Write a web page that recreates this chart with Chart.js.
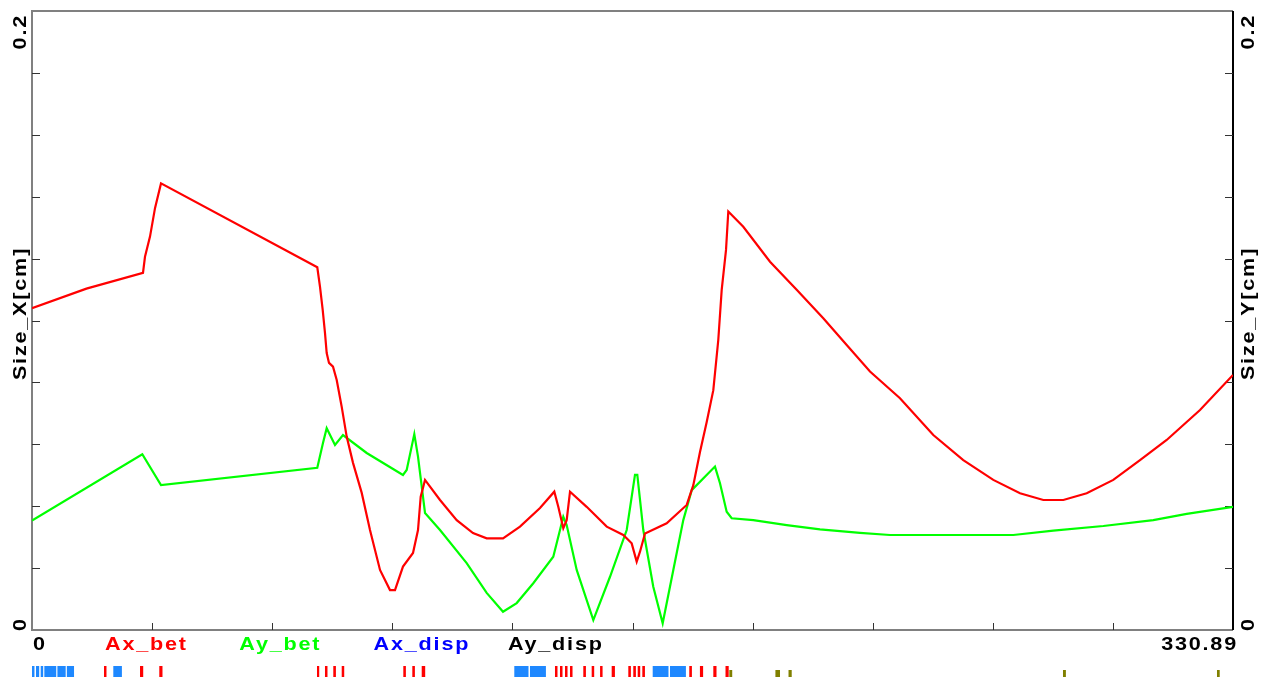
<!DOCTYPE html>
<html>
<head>
<meta charset="utf-8">
<title>Beam size</title>
<script src="https://cdn.jsdelivr.net/npm/chart.js@4.4.1/dist/chart.umd.min.js"></script>
<style>
  html, body { margin: 0; padding: 0; background: #fff; }
  #wrap { width: 1268px; height: 683px; position: relative; }
</style>
</head>
<body>
<div id="wrap"><canvas id="optics"></canvas></div>
<script>
// horizontal beam size along the line (s in m, size in cm)
const sAx = [0.00, 15.00, 30.58, 31.13, 32.51, 33.89, 35.54, 78.60, 79.35, 80.09, 80.72, 81.19, 81.83, 82.93, 83.95, 85.33, 86.70,
  88.44, 90.84, 93.12, 95.88, 98.63, 100.01, 102.21, 104.97, 106.35, 107.09, 108.28, 112.41, 117.01, 121.50, 125.27, 129.77,
  134.45, 139.96, 143.90, 145.00, 146.38, 147.31, 148.23, 152.82, 158.34, 162.91, 165.22, 166.60, 167.51, 168.89, 174.86,
  180.38, 182.20, 184.04, 185.89, 187.71, 189.08, 190.02, 191.21, 191.84, 195.97, 203.33, 210.68, 218.01, 224.46, 230.88,
  239.14, 248.32, 256.58, 264.85, 272.21, 278.63, 284.14, 290.58, 297.91, 305.27, 312.62, 321.80, 330.89];
const ax = [0.1040, 0.1103, 0.1154, 0.1206, 0.1271, 0.1363, 0.1443, 0.1172, 0.1109, 0.1034, 0.0960, 0.0895, 0.0863, 0.0851, 0.0808, 0.0721, 0.0625,
  0.0540, 0.0443, 0.0323, 0.0194, 0.0129, 0.0129, 0.0205, 0.0249, 0.0323, 0.0431, 0.0485, 0.0420, 0.0355, 0.0313, 0.0296, 0.0296,
  0.0334, 0.0394, 0.0447, 0.0398, 0.0329, 0.0355, 0.0447, 0.0398, 0.0334, 0.0307, 0.0280, 0.0221, 0.0253, 0.0312, 0.0345,
  0.0404, 0.0468, 0.0575, 0.0672, 0.0775, 0.0937, 0.1099, 0.1228, 0.1352, 0.1303, 0.1190, 0.1099, 0.1007, 0.0921, 0.0835,
  0.0749, 0.0630, 0.0549, 0.0485, 0.0442, 0.0420, 0.0420, 0.0442, 0.0485, 0.0549, 0.0614, 0.0711, 0.0824];

// vertical beam size
const sAy = [0.00, 30.39, 35.54, 78.60, 80.17, 81.19, 83.48, 85.68, 92.21, 102.21, 103.23, 105.33, 106.35, 108.28, 112.41, 119.76,
  125.27, 129.77, 133.54, 138.11, 143.62, 145.47, 146.38, 147.31, 150.07, 154.65, 159.25, 163.85, 166.13, 166.77, 168.42,
  171.17, 173.76, 176.69, 179.44, 181.76, 188.17, 189.55, 191.39, 192.77, 198.73, 207.93, 217.10, 228.12, 236.39, 270.36,
  281.38, 295.16, 308.93, 318.14, 330.89];
const ay = [0.0354, 0.0568, 0.0468, 0.0524, 0.0604, 0.0652, 0.0598, 0.0630, 0.0572, 0.0501, 0.0517, 0.0633, 0.0560, 0.0378, 0.0323, 0.0216,
  0.0120, 0.0059, 0.0087, 0.0151, 0.0237, 0.0323, 0.0366, 0.0339, 0.0194, 0.0032, 0.0172, 0.0323, 0.0501, 0.0501, 0.0323,
  0.0140, 0.0022, 0.0194, 0.0355, 0.0452, 0.0528, 0.0474, 0.0382, 0.0361, 0.0355, 0.0339, 0.0325, 0.0314, 0.0307, 0.0307,
  0.0321, 0.0336, 0.0355, 0.0375, 0.0398];

// lattice elements [start, end] in m
const quads = [[0, 0.9], [1.1, 2.2], [2.4, 3.3], [3.4, 6.9], [7.0, 9.5], [9.6, 11.8], [22.40, 24.99],
  [132.88, 137.01], [137.20, 141.81], [171.01, 175.58], [175.78, 180.38]];
const bends = [[19.84, 20.74], [29.76, 30.86], [35.07, 36.17], [78.52, 79.35], [80.72, 81.63], [83.01, 83.95], [85.33, 86.24],
  [102.30, 103.23], [104.78, 105.71], [107.37, 108.55], [144.09, 145.00], [145.47, 146.38], [146.85, 147.76], [148.23, 149.14],
  [151.89, 152.83], [154.20, 155.11], [156.51, 157.42], [159.71, 160.82], [164.29, 165.22], [165.66, 166.60], [166.88, 167.79],
  [168.15, 169.09], [181.09, 182.03], [184.02, 185.12], [187.71, 188.81], [191.07, 192.17]];
const others = [[192.12, 193.14], [204.82, 206.30], [208.43, 209.53], [284.05, 285.07], [326.48, 327.45]];

const xTicks = [0, 33.089, 66.178, 99.267, 132.356, 165.445, 198.534, 231.623, 264.712, 297.801, 330.89];
const yTicks = [0, 0.02, 0.04, 0.06, 0.08, 0.1, 0.12, 0.14, 0.16, 0.18, 0.2];
const sMin = 0, sMax = 330.89;
const legendNames = ['Ax_bet', 'Ay_bet', 'Ax_disp', 'Ay_disp'];
const legendColors = ['#ff0000', '#00ff00', '#0000ff', '#000000'];

const FONT = 'bold 18px "Liberation Sans", Arial, sans-serif';

function toPoints(xs, ys) {
  return xs.map((x, i) => ({ x: x, y: ys[i] }));
}

// wide bold labels, optionally turned to read bottom-up
function label(ctx, str, x, y, align, color, rotate) {
  ctx.save();
  ctx.translate(x, y);
  if (rotate) ctx.rotate(-Math.PI / 2);
  ctx.scale(1.2, 1);
  ctx.font = FONT;
  ctx.letterSpacing = '1.5px';
  ctx.fillStyle = color || '#000';
  ctx.textAlign = align;
  ctx.textBaseline = 'alphabetic';
  ctx.fillText(str, 0, 0);
  ctx.restore();
}

const framePlugin = {
  id: 'frame',
  beforeDatasetsDraw(chart) {
    const { ctx, chartArea: a, scales } = chart;
    ctx.save();
    ctx.lineWidth = 2;
    ctx.strokeStyle = '#808080';
    ctx.beginPath();
    ctx.moveTo(a.right, a.top);
    ctx.lineTo(a.left, a.top);
    ctx.lineTo(a.left, a.bottom);
    ctx.lineTo(a.right, a.bottom);
    ctx.stroke();
    ctx.strokeStyle = '#000';
    ctx.beginPath();
    ctx.moveTo(a.right, a.top);
    ctx.lineTo(a.right, a.bottom);
    ctx.stroke();

    // inward tick marks
    ctx.lineWidth = 1;
    ctx.strokeStyle = '#333';
    ctx.beginPath();
    yTicks.slice(1, -1).forEach(v => {
      const y = Math.round(scales.y.getPixelForValue(v)) + 0.5;
      ctx.moveTo(a.left, y); ctx.lineTo(a.left + 8, y);
      ctx.moveTo(a.right - 8, y); ctx.lineTo(a.right, y);
    });
    xTicks.slice(1, -1).forEach(v => {
      const x = Math.round(scales.x.getPixelForValue(v)) + 0.5;
      ctx.moveTo(x, a.bottom); ctx.lineTo(x, a.bottom - 7);
    });
    ctx.stroke();
    ctx.restore();
  },
  afterDraw(chart) {
    const { ctx, chartArea: a, scales } = chart;
    const xs = scales.x;
    const mid = (a.top + a.bottom) / 2 - 7;

    // axis end values and titles
    label(ctx, '0.2', 25.5, a.top + 3, 'right', '#000', true);
    label(ctx, '0', 25.5, a.bottom + 1, 'left', '#000', true);
    label(ctx, 'Size_X[cm]', 25.5, mid, 'center', '#000', true);
    label(ctx, '0.2', a.right + 21, a.top + 3, 'right', '#000', true);
    label(ctx, '0', a.right + 21, a.bottom + 1, 'left', '#000', true);
    label(ctx, 'Size_Y[cm]', a.right + 21, mid, 'center', '#000', true);

    const base = a.bottom + 20;
    label(ctx, '0', xs.getPixelForValue(sMin) + 1, base, 'left');
    label(ctx, String(sMax), xs.getPixelForValue(sMax) + 5, base, 'right');
    legendNames.forEach((n, i) => label(ctx, n, 105 + i * 134.3, base, 'left', legendColors[i]));

    // lattice strip
    ctx.save();
    const drawEls = (els, color, top, h) => {
      ctx.fillStyle = color;
      els.forEach(([s0, s1]) => {
        const x0 = xs.getPixelForValue(s0);
        const x1 = xs.getPixelForValue(s1);
        ctx.fillRect(x0, top, Math.max(x1 - x0 - 0.8, 2), h);
      });
    };
    drawEls(quads, '#1e88ff', a.bottom + 36, 11);
    drawEls(bends, '#ff0000', a.bottom + 36, 11);
    drawEls(others, '#808000', a.bottom + 40, 7);
    ctx.restore();
  }
};

new Chart(document.getElementById('optics'), {
  type: 'line',
  data: {
    datasets: [
      {
        label: 'Ax_bet',
        data: toPoints(sAx, ax),
        borderColor: '#ff0000',
        borderWidth: 2.2,
        pointRadius: 0,
        tension: 0,
        fill: false,
        yAxisID: 'y'
      },
      {
        label: 'Ay_bet',
        data: toPoints(sAy, ay),
        borderColor: '#00ff00',
        borderWidth: 2.2,
        pointRadius: 0,
        tension: 0,
        fill: false,
        yAxisID: 'y2'
      }
    ]
  },
  options: {
    responsive: true,
    maintainAspectRatio: false,
    animation: false,
    layout: { padding: { left: 32, right: 35, top: 11, bottom: 53 } },
    plugins: { legend: { display: false }, tooltip: { enabled: false } },
    scales: {
      x: { type: 'linear', min: sMin, max: sMax, display: false },
      y: { min: 0, max: 0.2, display: false },
      y2: { min: 0, max: 0.2, display: false }
    }
  },
  plugins: [framePlugin]
});
</script>
</body>
</html>
